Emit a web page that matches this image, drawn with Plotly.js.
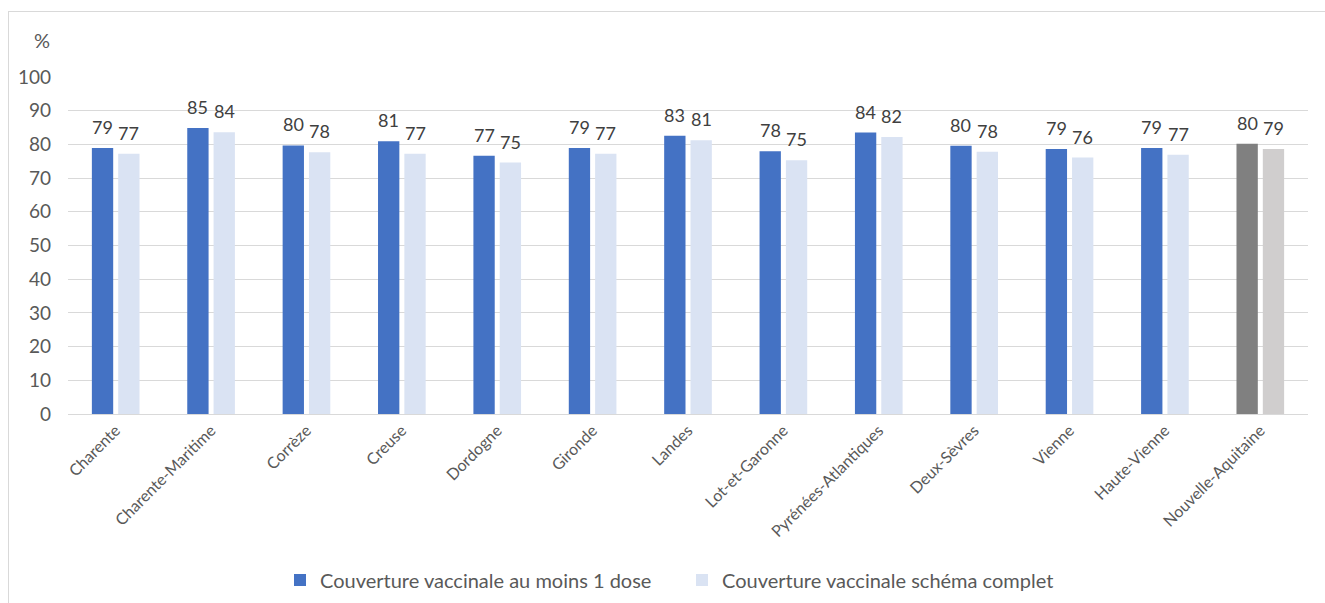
<!DOCTYPE html>
<html>
<head>
<meta charset="utf-8">
<script src="https://cdn.plot.ly/plotly-3.0.1.min.js"></script>
<style>
  html, body { margin: 0; padding: 0; background: #fff; overflow: hidden; }
  #frame { position: absolute; left: 8px; top: 11px; width: 1400px; height: 700px;
           border-top: 1px solid #d9d9d9; border-left: 1px solid #d9d9d9; }
  #chart { position: absolute; left: 0; top: 0; width: 1325px; height: 603px; }
</style>
</head>
<body>
<div id="frame"></div>
<div id="chart"></div>
<script>
const categories = ["Charente", "Charente-Maritime", "Corrèze", "Creuse", "Dordogne", "Gironde",
  "Landes", "Lot-et-Garonne", "Pyrénées-Atlantiques", "Deux-Sèvres", "Vienne", "Haute-Vienne",
  "Nouvelle-Aquitaine"];
const auMoins1Dose = [78.9, 84.9, 79.7, 80.9, 76.6, 78.9, 82.6, 78.0, 83.5, 79.6, 78.6, 78.9, 80.2];
const schemaComplet = [77.2, 83.6, 77.7, 77.2, 74.6, 77.2, 81.2, 75.3, 82.2, 77.8, 76.1, 76.9, 78.6];
const seriesNames = ["Couverture vaccinale au moins 1 dose", "Couverture vaccinale schéma complet"];
const yTicks = [0, 10, 20, 30, 40, 50, 60, 70, 80, 90, 100];

const blue = "#4472C4", lightBlue = "#DAE3F3", grey = "#808080", lightGrey = "#D0CECE";
const c1 = categories.map((c, i) => i === categories.length - 1 ? grey : blue);
const c2 = categories.map((c, i) => i === categories.length - 1 ? lightGrey : lightBlue);

const font = "Lato, 'Open Sans', sans-serif";
const labelFont = { family: font, size: 18, color: "#404040" };

const W = 1325, H = 603, ML = 68, MR = 17, MT = 77, MB = 189;
const bargap = 0.448, bargroupgap = 0.19;
const catW = (W - ML - MR) / categories.length;
const slotOffset = catW * (1 - bargap) / 4;

const traces = [
  { type: "bar", name: seriesNames[0], x: categories, y: auMoins1Dose,
    marker: { color: c1 }, hoverinfo: "x+y" },
  { type: "bar", name: seriesNames[1], x: categories, y: schemaComplet,
    marker: { color: c2 }, hoverinfo: "x+y" }
];

const annotations = [];
[auMoins1Dose, schemaComplet].forEach((vals, s) => {
  vals.forEach((v, i) => {
    annotations.push({ xref: "x", yref: "y", x: categories[i], y: v, text: v.toFixed(0),
      xanchor: "center", yanchor: "bottom", xshift: (s === 0 ? -1 : 1) * slotOffset, yshift: 8,
      showarrow: false, font: labelFont });
  });
});
annotations.push({ text: "%", xref: "paper", yref: "paper", x: -0.021, y: 1.11,
  xanchor: "center", yanchor: "middle", showarrow: false,
  font: { family: font, size: 20, color: "#595959" } });

const layout = {
  width: W, height: H,
  paper_bgcolor: "rgba(0,0,0,0)", plot_bgcolor: "rgba(0,0,0,0)",
  margin: { l: ML, r: MR, t: MT, b: MB, autoexpand: false },
  barmode: "group", bargap: bargap, bargroupgap: bargroupgap,
  font: { family: font, color: "#595959" },
  showlegend: true,
  legend: { orientation: "h", x: 0.5 - 6 / (W - ML - MR), xanchor: "center", yref: "container",
            y: 1 - 580 / H, yanchor: "middle",
            font: { family: font, size: 20, color: "#595959" },
            entrywidth: 357, entrywidthmode: "pixels", traceorder: "normal" },
  xaxis: { type: "category", tickangle: -45, tickfont: { family: font, size: 16, color: "#595959" },
           showgrid: false, showline: true, linecolor: "#d9d9d9", linewidth: 1, ticks: "",
           fixedrange: true, automargin: false },
  yaxis: { range: [0, 100], tickvals: yTicks, ticktext: yTicks.map(String),
           tickfont: { family: font, size: 19, color: "#595959" },
           showgrid: true, gridcolor: "#d9d9d9", gridwidth: 1, zeroline: false, showline: false,
           ticks: "", ticklabelstandoff: 16, fixedrange: true, automargin: false },
  annotations: annotations
};

Plotly.newPlot("chart", traces, layout, { displayModeBar: false, staticPlot: true });
</script>
</body>
</html>
